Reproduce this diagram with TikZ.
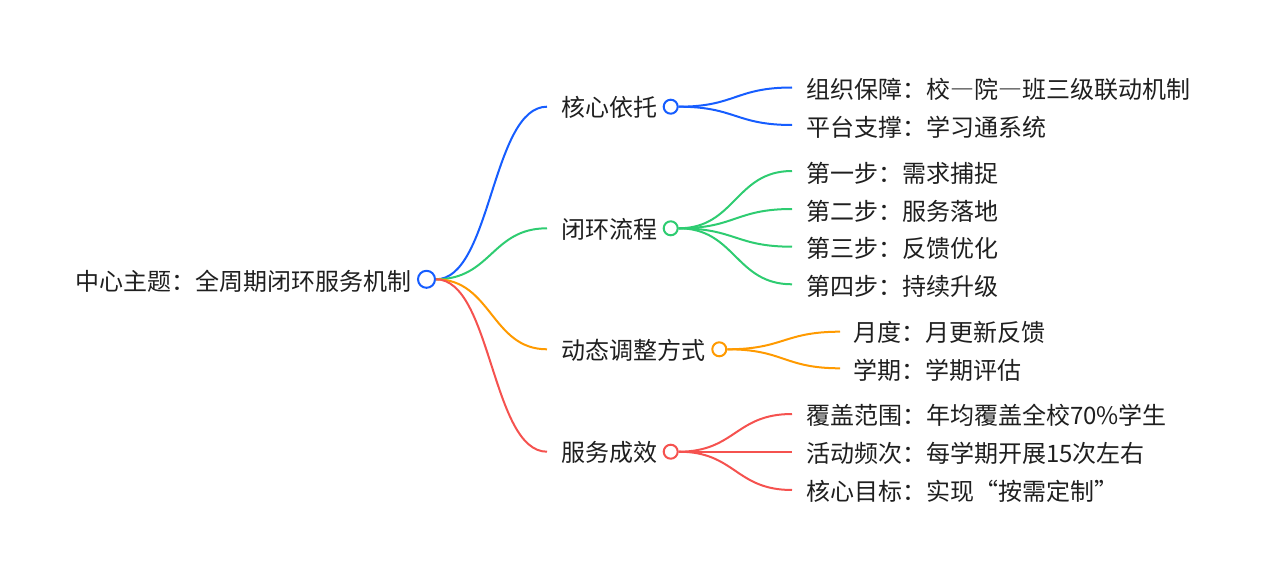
\documentclass[tikz,border=0pt]{standalone}
\usepackage{fontspec}
\setmainfont{Noto Sans CJK SC}
\usetikzlibrary{calc}
\definecolor{cblue}{HTML}{165DFF}
\definecolor{cgreen}{HTML}{2ECC71}
\definecolor{corange}{HTML}{FF9A00}
\definecolor{cred}{HTML}{F5524F}
\definecolor{ctext}{HTML}{1F1F1F}
\tikzset{
  lbl/.style={anchor=west, inner sep=0pt, text=ctext, font=\fontsize{24}{28}\selectfont},
  rootdot/.style={circle, draw=cblue, fill=white, line width=2pt, minimum size=17pt, inner sep=0pt},
  dot/.style={circle, draw=#1, fill=white, line width=2pt, minimum size=14pt, inner sep=0pt},
  link/.style={line width=2pt, #1},
  curve/.style={to path={let \p1=(\tikztostart), \p2=(\tikztotarget) in
     .. controls ({(\x1+\x2)/2},\y1) and ({(\x1+\x2)/2},\y2) .. (\tikztotarget)}}
}
\begin{document}
\begin{tikzpicture}[x=1pt,y=-1pt]
\useasboundingbox (0,0) rectangle (1267,578);
% root
\node[lbl] (root) at (75,281) {中心主题：全周期闭环服务机制};
\node[rootdot] (rc) at (426.5,279.3) {};
% level 1 ends
\coordinate (e1) at (547,106.7);
\coordinate (e2) at (547,228.3);
\coordinate (e3) at (547,349.3);
\coordinate (e4) at (547,451.7);
\node[lbl] (n1) at (561,107.5) {核心依托};
\node[lbl] (n2) at (561,229) {闭环流程};
\node[lbl] (n3) at (561,350) {动态调整方式};
\node[lbl] (n4) at (561,452.5) {服务成效};
\draw[link=cblue] (rc.east) to[curve] (e1);
\draw[link=cgreen] (rc.east) to[curve] (e2);
\draw[link=corange] (rc.east) to[curve] (e3);
\draw[link=cred] (rc.east) to[curve] (e4);
\node[dot=cblue] (c1) at (670.7,106.7) {};
\node[dot=cgreen] (c2) at (670.7,228.3) {};
\node[dot=corange] (c3) at (719.3,349.3) {};
\node[dot=cred] (c4) at (670.7,451.7) {};
% level 2 blue
\coordinate (b1) at (792,87.5);
\coordinate (b2) at (792,125);
\draw[link=cblue] (c1.east) to[curve] (b1);
\draw[link=cblue] (c1.east) to[curve] (b2);
\node[lbl] (tb1) at (806,89) {组织保障：校―院―班三级联动机制};
\node[lbl] (tb2) at (806,127) {平台支撑：学习通系统};
% level 2 green
\coordinate (g1) at (792,171);
\coordinate (g2) at (792,209);
\coordinate (g3) at (792,246.7);
\coordinate (g4) at (792,284.3);
\draw[link=cgreen] (c2.east) to[curve] (g1);
\draw[link=cgreen] (c2.east) to[curve] (g2);
\draw[link=cgreen] (c2.east) to[curve] (g3);
\draw[link=cgreen] (c2.east) to[curve] (g4);
\node[lbl] (tg1) at (806,173) {第一步：需求捕捉};
\node[lbl] (tg2) at (806,211) {第二步：服务落地};
\node[lbl] (tg3) at (806,248.5) {第三步：反馈优化};
\node[lbl] (tg4) at (806,286.5) {第四步：持续升级};
% level 2 orange
\coordinate (o1) at (840,331.7);
\coordinate (o2) at (840,368.3);
\draw[link=corange] (c3.east) to[curve] (o1);
\draw[link=corange] (c3.east) to[curve] (o2);
\node[lbl] (to1) at (853,332) {月度：月更新反馈};
\node[lbl] (to2) at (853,370) {学期：学期评估};
% level 2 red
\coordinate (r1) at (792,414);
\coordinate (r2) at (792,451.7);
\coordinate (r3) at (792,490);
\draw[link=cred] (c4.east) to[curve] (r1);
\draw[link=cred] (c4.east) to[curve] (r2);
\draw[link=cred] (c4.east) to[curve] (r3);
\node[lbl] (tr1) at (806,415.5) {覆盖范围：年均覆盖全校70\%学生};
\node[lbl] (tr2) at (806,453.5) {活动频次：每学期开展15次左右};
\node[lbl] (tr3) at (806,491.5) {核心目标：实现“按需定制”};
\end{tikzpicture}
\end{document}
